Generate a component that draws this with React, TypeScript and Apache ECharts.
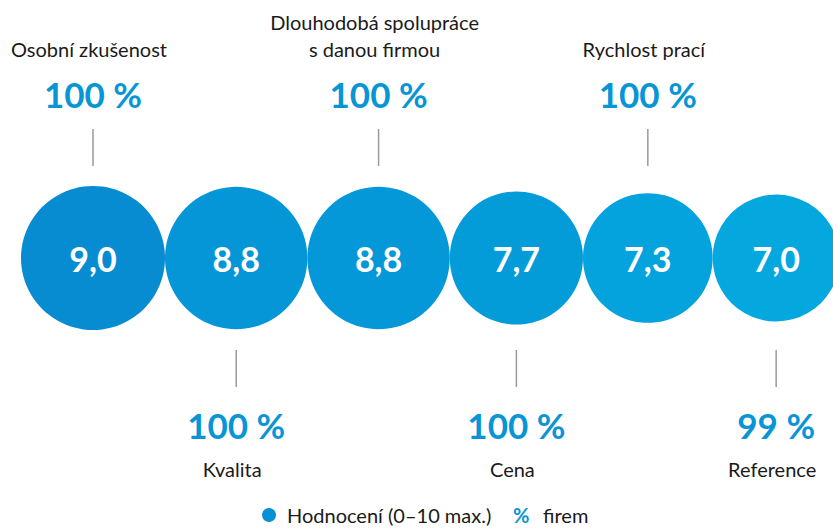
import React, { useEffect, useRef } from "react";
import * as echarts from "echarts";

const categories = [
  "Osobní zkušenost",
  "Kvalita",
  "Dlouhodobá spolupráce\ns danou firmou",
  "Cena",
  "Rychlost prací",
  "Reference",
];
const ratings = [9.0, 8.8, 8.8, 7.7, 7.3, 7.0];
const percents = [100, 100, 100, 100, 100, 99];
const legendNames = ["Hodnocení (0–10 max.)", "firem"];

const circleColors = ["#078bd1", "#0596d7", "#0598d8", "#049bd9", "#05a3dd", "#05a7df"];
const FONT = "Lato, 'Noto Sans', sans-serif";
const K = 24; // radius scale: area proportional to value
const CY = 258;
const LEFT = 21;
const LEG_Y = 515;

export default function App() {
  const ref = useRef<HTMLDivElement>(null);
  useEffect(() => {
    if (!ref.current) return;
    const chart = echarts.init(ref.current, undefined, { renderer: "svg" });
    const radii = ratings.map((v) => K * Math.sqrt(v));
    const xs: number[] = [];
    radii.forEach((r, i) => {
      xs.push(i === 0 ? LEFT + r : xs[i - 1] + radii[i - 1] + r);
    });
    const pts = ratings.map((v, i) => ({
      value: [xs[i], CY, v],
      itemStyle: { color: circleColors[i], opacity: 1 },
    }));
    chart.setOption({
      animation: false,
      grid: { left: 0, right: 0, top: 0, bottom: 0 },
      xAxis: { type: "value", min: 0, max: 833, show: false },
      yAxis: { type: "value", min: 0, max: 529, inverse: true, show: false },
      series: [
        {
          type: "scatter",
          name: legendNames[0],
          data: pts,
          symbol: "circle",
          symbolSize: (val: number[]) => 2 * K * Math.sqrt(val[2]),
          itemStyle: { opacity: 1 },
          label: {
            show: true,
            position: "inside",
            formatter: (p: any) => p.value[2].toFixed(1).replace(".", ","),
            color: "#ffffff",
            opacity: 1,
            fontSize: 34,
            fontWeight: "bold",
            fontFamily: FONT,
          },
          emphasis: { disabled: true },
          z: 2,
        },
        {
          type: "custom",
          name: legendNames[1],
          data: ratings.map((v, i) => [xs[i], percents[i], i]),
          renderItem: (params: any, api: any) => {
            const i = params.dataIndex;
            const p = api.coord([api.value(0), CY]);
            const up = i % 2 === 0;
            const s = up ? -1 : 1;
            const x = p[0];
            const y = p[1];
            const pct = api.value(1);
            return {
              type: "group",
              children: [
                {
                  type: "line",
                  shape: { x1: x, y1: y + s * 92, x2: x, y2: y + s * 129 },
                  style: { stroke: "#9a9a9a", lineWidth: 1.5 },
                },
                {
                  type: "text",
                  x: x,
                  y: y + (up ? -164 : 167),
                  style: {
                    text: pct + " %",
                    fill: "#0795d6",
                    fontSize: 35,
                    fontWeight: "bold",
                    fontFamily: FONT,
                    align: "center",
                    verticalAlign: "middle",
                  },
                },
                {
                  type: "text",
                  x: x - 4,
                  y: up ? y - 196 : y + 197,
                  style: {
                    text: categories[i],
                    fill: "#1a1a1a",
                    fontSize: 20,
                    fontFamily: FONT,
                    lineHeight: 27,
                    align: "center",
                    verticalAlign: up ? "bottom" : "top",
                  },
                },
              ],
            };
          },
          z: 3,
        },
      ],
      graphic: [
        {
          type: "circle",
          shape: { cx: 269, cy: LEG_Y, r: 7 },
          style: { fill: "#0790d4" },
        },
        {
          type: "text",
          x: 287,
          y: LEG_Y,
          style: {
            text: legendNames[0],
            fill: "#1a1a1a",
            fontSize: 20,
            fontFamily: FONT,
            align: "left",
            verticalAlign: "middle",
          },
        },
        {
          type: "text",
          x: 513,
          y: LEG_Y,
          style: {
            text: "%",
            fill: "#0795d6",
            fontSize: 20,
            fontWeight: "bold",
            fontFamily: FONT,
            align: "left",
            verticalAlign: "middle",
          },
        },
        {
          type: "text",
          x: 543,
          y: LEG_Y,
          style: {
            text: legendNames[1],
            fill: "#1a1a1a",
            fontSize: 20,
            fontFamily: FONT,
            align: "left",
            verticalAlign: "middle",
          },
        },
      ],
    });
    return () => chart.dispose();
  }, []);
  return (
    <div
      ref={ref}
      style={{ position: "fixed", left: 0, top: 0, width: 833, height: 529, background: "#fff" }}
    />
  );
}
